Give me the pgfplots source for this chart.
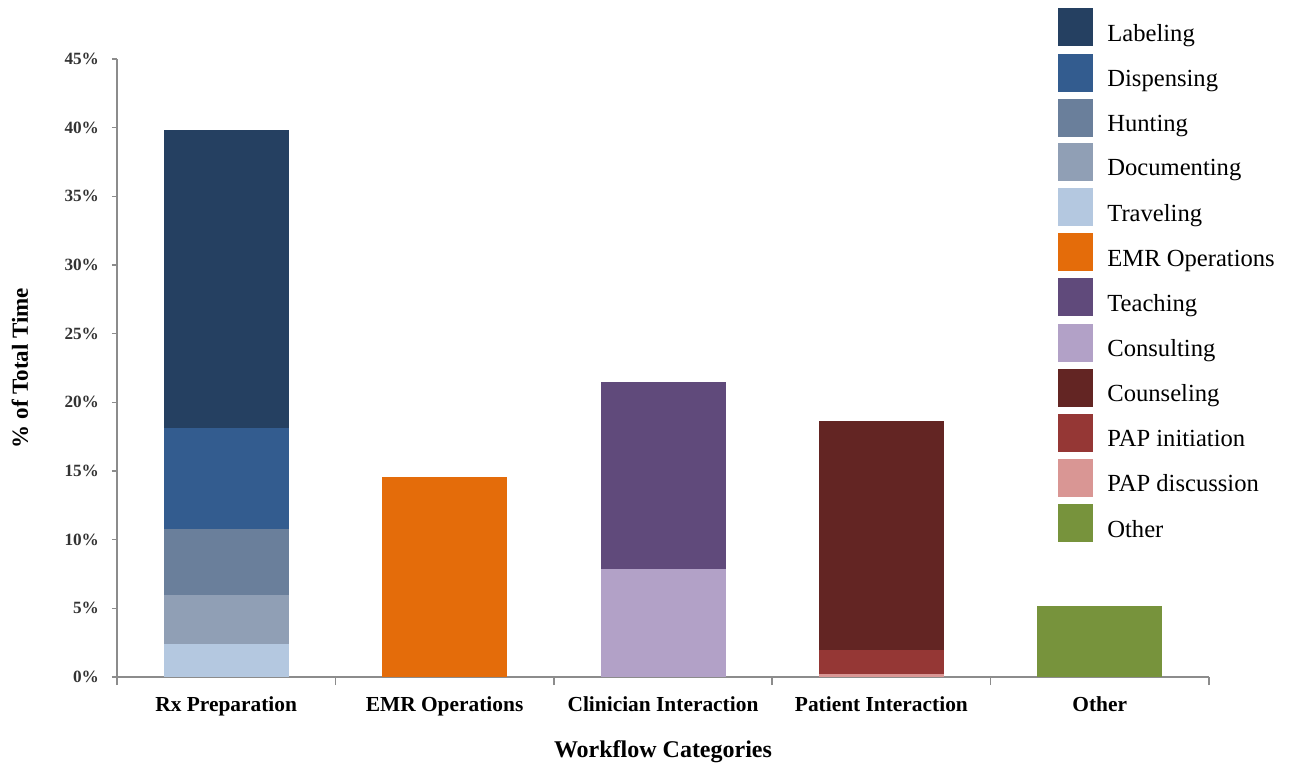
\documentclass[border=0pt]{standalone}
\usepackage{fontspec}
\setmainfont{Liberation Serif}
\usepackage{pgfplots}
\pgfplotsset{compat=1.18}
\usepackage{pgfplotstable}

\definecolor{cLab}{HTML}{254061}
\definecolor{cDisp}{HTML}{335C8F}
\definecolor{cHunt}{HTML}{6A7F9B}
\definecolor{cDoc}{HTML}{909FB5}
\definecolor{cTrav}{HTML}{B4C8E0}
\definecolor{cEMR}{HTML}{E46C0A}
\definecolor{cTeach}{HTML}{604A7B}
\definecolor{cCons}{HTML}{B2A1C7}
\definecolor{cCoun}{HTML}{632523}
\definecolor{cPAPi}{HTML}{953735}
\definecolor{cPAPd}{HTML}{D99694}
\definecolor{cOth}{HTML}{77933C}
\definecolor{axgray}{HTML}{8C8C8C}

\pgfplotstableread{
x Other PAPd PAPi Coun Cons Teach EMR Trav Doc Hunt Disp Lab
0 0 0 0 0 0 0 0 2.4 3.6 4.8 7.3 21.7
1 0 0 0 0 0 0 14.6 0 0 0 0 0
2 0 0 0 0 7.9 13.6 0 0 0 0 0 0
3 0 0.2 1.8 16.65 0 0 0 0 0 0 0 0
4 5.2 0 0 0 0 0 0 0 0 0 0 0
}\data

\begin{document}
\begin{tikzpicture}
\begin{axis}[
  scale only axis,
  width=546pt, height=309pt,
  ybar stacked,
  bar width=62.5pt,
  xmin=-0.5, xmax=4.5,
  ymin=0, ymax=45,
  axis x line*=bottom,
  axis y line*=left,
  axis line style={axgray, line width=0.8pt},
  every tick/.style={axgray, line width=0.8pt},
  tick align=outside,
  major tick length=2.5pt,
  minor tick length=4pt,
  xtick={0,1,2,3,4},
  xticklabels={Rx Preparation, EMR Operations, Clinician Interaction, Patient Interaction, Other},
  major x tick style={draw=none},
  minor xtick={-0.5,0.5,1.5,2.5,3.5,4.5},
  ytick={0,5,...,45},
  yticklabels={0\%,5\%,10\%,15\%,20\%,25\%,30\%,35\%,40\%,45\%},
  x tick label style={font=\bfseries\fontsize{10.7}{12}\selectfont, text=black, yshift=-4pt},
  y tick label style={font=\bfseries\fontsize{8.6}{10}\selectfont, text=black!80, xshift=-3pt},
  xlabel={Workflow Categories},
  ylabel={\% of Total Time},
  xlabel style={font=\bfseries\fontsize{12}{14}\selectfont, at={(axis description cs:0.5,-0.1214)}, anchor=center},
  ylabel style={font=\bfseries\fontsize{11.5}{14}\selectfont, at={(axis description cs:-0.0888,0.5)}, anchor=center},
  reverse legend,
  legend style={draw=none, fill=none, at={(0.8617,1.0825)}, anchor=north west,
    inner sep=0pt, row sep=2.6pt, column sep=5pt,
    font=\fontsize{12.3}{14}\selectfont, cells={anchor=west}},
  legend image code/.code={\fill[#1] (0pt,-6pt) rectangle (17.5pt,13pt);},
  every axis plot/.append style={draw=none},
]
\addplot[fill=cOth] table[x=x,y=Other]{\data};
\addplot[fill=cPAPd] table[x=x,y=PAPd]{\data};
\addplot[fill=cPAPi] table[x=x,y=PAPi]{\data};
\addplot[fill=cCoun] table[x=x,y=Coun]{\data};
\addplot[fill=cCons] table[x=x,y=Cons]{\data};
\addplot[fill=cTeach] table[x=x,y=Teach]{\data};
\addplot[fill=cEMR] table[x=x,y=EMR]{\data};
\addplot[fill=cTrav] table[x=x,y=Trav]{\data};
\addplot[fill=cDoc] table[x=x,y=Doc]{\data};
\addplot[fill=cHunt] table[x=x,y=Hunt]{\data};
\addplot[fill=cDisp] table[x=x,y=Disp]{\data};
\addplot[fill=cLab] table[x=x,y=Lab]{\data};
\legend{Other, PAP discussion, PAP initiation, Counseling, Consulting, Teaching, EMR Operations, Traveling, Documenting, Hunting, Dispensing, Labeling}
\coordinate (O) at (rel axis cs:0,0);
\end{axis}
\path (O) ++(-58.5pt,-44.5pt) rectangle ++(645pt,383pt);
\end{tikzpicture}
\end{document}
